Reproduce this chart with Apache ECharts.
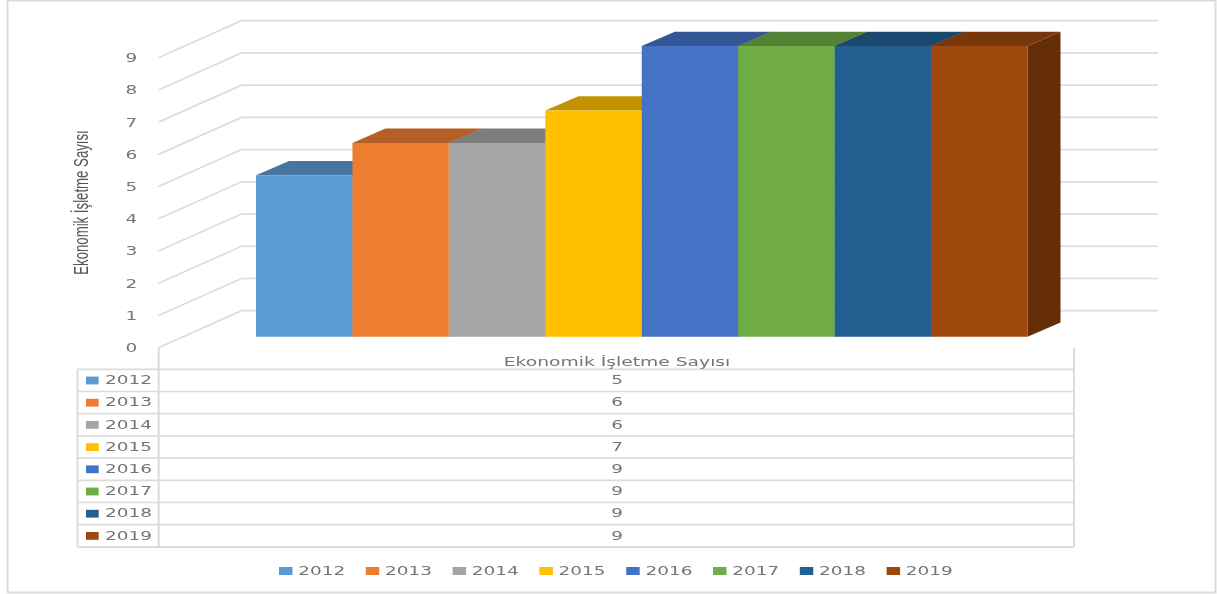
<!DOCTYPE html>
<html><head><meta charset="utf-8">
<style>html,body{margin:0;padding:0;background:#fff}#c{width:1217px;height:594px}</style>
<script src="https://cdn.jsdelivr.net/npm/echarts@6/dist/echarts.min.js"></script>
</head><body><div id="c"></div>
<script>
const years = ['2012','2013','2014','2015','2016','2017','2018','2019'];
const values = [5,6,6,7,9,9,9,9];
const ticks = [0,1,2,3,4,5,6,7,8,9];
const frontColors = ['#5B9BD5','#ED7D31','#A5A5A5','#FFC000','#4472C4','#70AD47','#255E91','#9E480E'];
const topColors = ['#4675A2','#B55E25','#7D7D7D','#C29200','#345695','#558336','#1C476E','#78370B'];
const sideColors = ['#3C658C','#9C5120','#6C6C6C','#A87E00','#2D4B81','#49712F','#183D5F','#662E07'];
const axisTitle = 'Ekonomik İşletme Sayısı';
const tableHeader = 'Ekonomik İşletme Sayısı';

const GRAY = '#757575', LINE = '#dcdcdc', FONT = '"DejaVu Sans"';
function label(text, x, y, align, size, sx) {
  return {type:'text', x, y, scaleX:sx||1.42, z:20, silent:true,
    style:{text, fontFamily:FONT, fontSize:size||13, fill:GRAY, align:align||'left', verticalAlign:'middle'}};
}
function seg(x1,y1,x2,y2,w) {
  return {type:'line', z:10, silent:true, shape:{x1,y1,x2,y2}, style:{stroke:LINE, lineWidth:w||1.7}};
}
function rect(x,y,width,height,fill,stroke,lw) {
  return {type:'rect', z:10, silent:true, shape:{x,y,width,height},
    style:{fill:fill||'none', stroke:stroke||'none', lineWidth:lw||0}};
}
const graphics = [];
graphics.push(rect(7.5,0.5,1208,592,'none',LINE,2));
// data table
const T_TOP = 369.3, T_ROW = 22.2, T_L = 77.5, T_M = 158.7, T_R = 1074;
graphics.push(seg(T_M,347.7,T_M,T_TOP+8*T_ROW,2));
graphics.push(seg(T_R,347.7,T_R,T_TOP+8*T_ROW,2));
graphics.push(seg(T_L,T_TOP,T_L,T_TOP+8*T_ROW,2));
graphics.push(label(tableHeader,617,362.5,'center',12,1.56));
years.forEach((y,i)=>{
  const top = T_TOP+i*T_ROW, mid = top+T_ROW/2;
  graphics.push(seg(T_L,top,T_R,top));
  graphics.push(rect(86,mid-3.8,12.7,7.8,frontColors[i]));
  graphics.push(label(y,105,mid+0.5,'left'));
  graphics.push(label(String(values[i]),617,mid+0.5,'center'));
});
graphics.push(seg(T_L,T_TOP+8*T_ROW,T_R,T_TOP+8*T_ROW,2));
// legend
years.forEach((y,i)=>{
  const x = 279+86.8*i;
  graphics.push(rect(x,567,13.5,8,frontColors[i]));
  graphics.push(label(y,x+19.2,571.5,'left'));
});
// axis title
graphics.push({type:'text', x:82.5, y:202.5, rotation:Math.PI/2, scaleX:0.66, scaleY:1, z:20, silent:true,
  style:{text:axisTitle, fontFamily:'"Liberation Sans"', fontSize:20, fill:'#555', align:'center', verticalAlign:'middle'}});

const chart = echarts.init(document.getElementById('c'), null, {renderer:'canvas'});
const DEPTH_X = 83, DEPTH_Y = -37, WALL_RIGHT = 1158;
const BAR_DX = 33, BAR_DY = -14.3;
chart.setOption({
  animation:false,
  backgroundColor:'#fff',
  grid:[
    {left:158.5, top:57.7, width:DEPTH_X, height:290},
    {left:256, top:46, width:771.5, height:290.7}
  ],
  xAxis:[
    {gridIndex:0, type:'value', min:0, max:1, show:false},
    {gridIndex:1, type:'category', data:years, show:false}
  ],
  yAxis:[
    {gridIndex:0, type:'value', min:0, max:9, interval:1, show:false},
    {gridIndex:1, type:'value', min:0, max:9, interval:1, show:false}
  ],
  graphic:graphics,
  series:[
    {type:'custom', name:'walls', xAxisIndex:0, yAxisIndex:0, z:1, silent:true,
     data:ticks.map(v=>[0,v]),
     renderItem(params,api){
       const v = api.value(1), f = api.coord([0,v]), b = api.coord([1,v]);
       const by = f[1]+DEPTH_Y;
       return {type:'group', children:[
         {type:'polyline', shape:{points:[f,[b[0],by],[WALL_RIGHT,by]]},
          style:{stroke:LINE, lineWidth:1.7, fill:'none'}},
         {type:'text', x:131.3, y:f[1]+1, scaleX:1.42,
          style:{text:String(v), fontFamily:FONT, fontSize:13, fill:GRAY, align:'center', verticalAlign:'middle'}}
       ]};
     }},
    {type:'custom', name:tableHeader, xAxisIndex:1, yAxisIndex:1, z:3, silent:true,
     data:values.map((v,i)=>[i,v]),
     renderItem(params,api){
       const i = api.value(0), v = api.value(1);
       const w = api.size([1,0])[0];
       const c = api.coord([i,v]), z = api.coord([i,0]);
       const l = c[0]-w/2, r = c[0]+w/2, t = c[1], bt = z[1];
       const poly = (pts,fill)=>({type:'polygon', shape:{points:pts}, style:{fill}});
       return {type:'group', children:[
         poly([[r,t],[r+BAR_DX,t+BAR_DY],[r+BAR_DX,bt+BAR_DY],[r,bt]],sideColors[i]),
         poly([[l,t],[l+BAR_DX,t+BAR_DY],[r+BAR_DX,t+BAR_DY],[r,t]],topColors[i]),
         poly([[l,t],[r,t],[r,bt],[l,bt]],frontColors[i])
       ]};
     }}
  ]
});
</script></body></html>
